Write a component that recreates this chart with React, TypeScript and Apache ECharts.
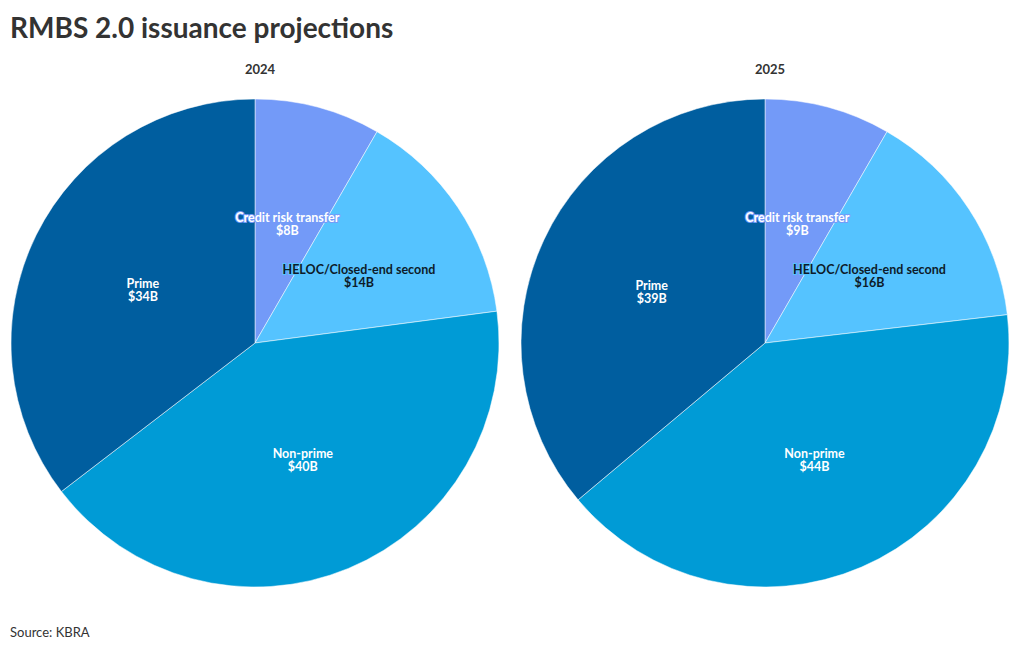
import React, { useEffect, useRef } from "react";
import * as echarts from "echarts";

const categories = ["Credit risk transfer", "HELOC/Closed-end second", "Non-prime", "Prime"];
const values2024 = [8, 14, 40, 34];
const values2025 = [9, 16, 44, 39];
const years = ["2024", "2025"];
const colors = ["#739AF8", "#55C3FF", "#009BD6", "#005E9F"];
const textColors = ["#ffffff", "#0d1b2a", "#ffffff", "#ffffff"];

const FONT = "Lato, 'Noto Sans', sans-serif";

function buildData(values: number[]) {
  return categories.map((name, i) => ({
    name,
    value: values[i],
    itemStyle: { color: colors[i] },
    label: {
      color: textColors[i],
      textBorderColor: colors[i],
      textBorderWidth: 2,
    },
  }));
}

export default function App() {
  const ref = useRef<HTMLDivElement>(null);
  useEffect(() => {
    document.body.style.margin = "0";
    const chart = echarts.init(ref.current!, null, { renderer: "svg" });
    const centers = [255, 765];
    const series = [values2024, values2025].map((vals, k) => ({
      type: "pie",
      center: [centers[k], 343],
      radius: [0, 244],
      startAngle: 90,
      clockwise: true,
      avoidLabelOverlap: false,
      data: buildData(vals),
      itemStyle: { borderColor: "#ffffff", borderWidth: 0.5 },
      label: {
        show: true,
        position: "inside",
        formatter: (p: any) => `${p.name}\n$${p.value}B`,
        fontFamily: FONT,
        fontSize: 12.5,
        fontWeight: "bold",
        lineHeight: 13,
        align: "center",
        offset: [0, 2],
      },
      labelLine: { show: false },
      emphasis: { disabled: true },
    }));
    chart.setOption({
      animation: false,
      backgroundColor: "#ffffff",
      title: [
        {
          text: "RMBS 2.0 issuance projections",
          left: 5,
          top: 8,
          textStyle: { fontFamily: FONT, fontSize: 28, fontWeight: "bold", color: "#333333" },
        },
        ...years.map((y, k) => ({
          text: y,
          left: centers[k],
          top: 57,
          textAlign: "center",
          textStyle: { fontFamily: FONT, fontSize: 13, fontWeight: "bold", color: "#333333" },
        })),
        {
          text: "Source: KBRA",
          left: 5,
          top: 620,
          textStyle: { fontFamily: FONT, fontSize: 13, fontWeight: "normal", color: "#333333" },
        },
      ],
      series,
    });
    return () => chart.dispose();
  }, []);
  return <div ref={ref} style={{ width: 1020, height: 650 }} />;
}
